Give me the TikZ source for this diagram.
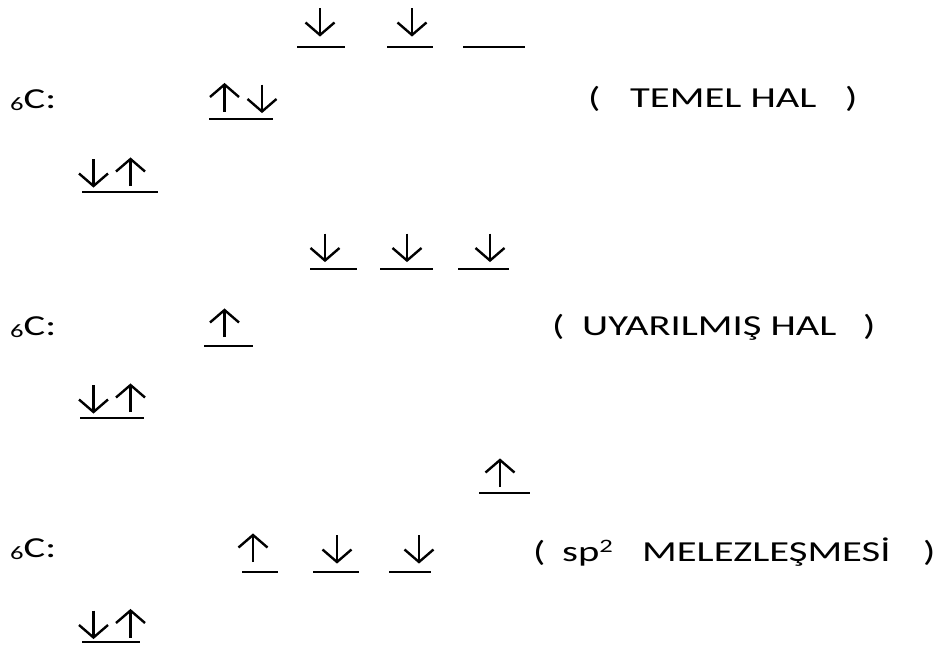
\documentclass[tikz,border=0pt]{standalone}
\usepackage{fontspec}
\setmainfont{Carlito}[FakeStretch=1.4]
\newcommand\elem{{\fontsize{19}{20}\selectfont\raisebox{-2.5pt}{6}}C:}
\begin{document}
\begin{tikzpicture}[x=1pt,y=-1pt,
  lbl/.style={anchor=base west,inner sep=0pt,font=\fontsize{29}{34}\selectfont},
  spinline/.style={line width=2.4pt,line join=miter,line cap=butt},
  level/.style={line width=2pt},
  % electron spin arrows (y grows downwards)
  spinup/.pic={\draw[spinline] (0,13.5) -- (0,-13);
               \draw[spinline] (-14.5,-1) -- (0,-13.5) -- (14.5,-1);},
  spindown/.pic={\draw[spinline] (0,-13.5) -- (0,13);
                 \draw[spinline] (-14.5,1) -- (0,13.5) -- (14.5,1);}]
\useasboundingbox (0,0) rectangle (939,646);

% ---- ground state ----
\pic (g2p1) at (320,21.5) {spindown};
\pic (g2p2) at (412,21.5) {spindown};
\draw[level] (297,47) -- (345,47);
\draw[level] (387,47) -- (433,47);
\draw[level] (463,47) -- (525,47);
\node[lbl] (gC) at (10,108) {\elem};
\pic (g2sa) at (224.5,98) {spinup};
\pic (g2sb) at (262,98) {spindown};
\draw[level] (209,119) -- (273,119);
\node[lbl] (gL) at (588,107) {(};
\node[lbl] (gT) at (630,107) {TEMEL HAL};
\node[lbl] (gR) at (845,107) {)};
\pic (g1sa) at (93.5,172.5) {spindown};
\pic (g1sb) at (130.5,172.5) {spinup};
\draw[level] (82,192) -- (158,192);

% ---- excited state ----
\pic (e2p1) at (325,247) {spindown};
\pic (e2p2) at (407,247) {spindown};
\pic (e2p3) at (490,247) {spindown};
\draw[level] (310,269) -- (357,269);
\draw[level] (380,269) -- (433,269);
\draw[level] (458,269) -- (509,269);
\node[lbl] (eC) at (10,335) {\elem};
\pic (e2s) at (224.5,323.5) {spinup};
\draw[level] (204,346) -- (253,346);
\node[lbl] (eL) at (552,335) {(};
\node[lbl] (eT) at (582,335) {UYARILMIŞ HAL};
\node[lbl] (eR) at (863,335) {)};
\pic (e1sa) at (93.5,398.5) {spindown};
\pic (e1sb) at (130.5,398.5) {spinup};
\draw[level] (80,418) -- (144,418);

% ---- sp2 hybridisation ----
\pic (h2p) at (500,473.5) {spinup};
\draw[level] (479,493) -- (530,493);
\node[lbl] (hC) at (10,557) {\elem};
\pic (hsp1) at (253,548.5) {spinup};
\pic (hsp2) at (337,548.5) {spindown};
\pic (hsp3) at (419,548.5) {spindown};
\draw[level] (242,572) -- (278,572);
\draw[level] (313,572) -- (359,572);
\draw[level] (389,572) -- (431,572);
\node[lbl] (hL) at (533,561) {(};
\node[lbl] (hT) at (562,561) {sp\raisebox{9pt}{\fontsize{19}{20}\selectfont 2}};
\node[lbl] (hM) at (642,561) {MELEZLEŞMESİ};
\node[lbl] (hR) at (923,561) {)};
\pic (h1sa) at (93.5,624) {spindown};
\pic (h1sb) at (130.5,624) {spinup};
\draw[level] (82,642) -- (140,642);
\end{tikzpicture}
\end{document}
